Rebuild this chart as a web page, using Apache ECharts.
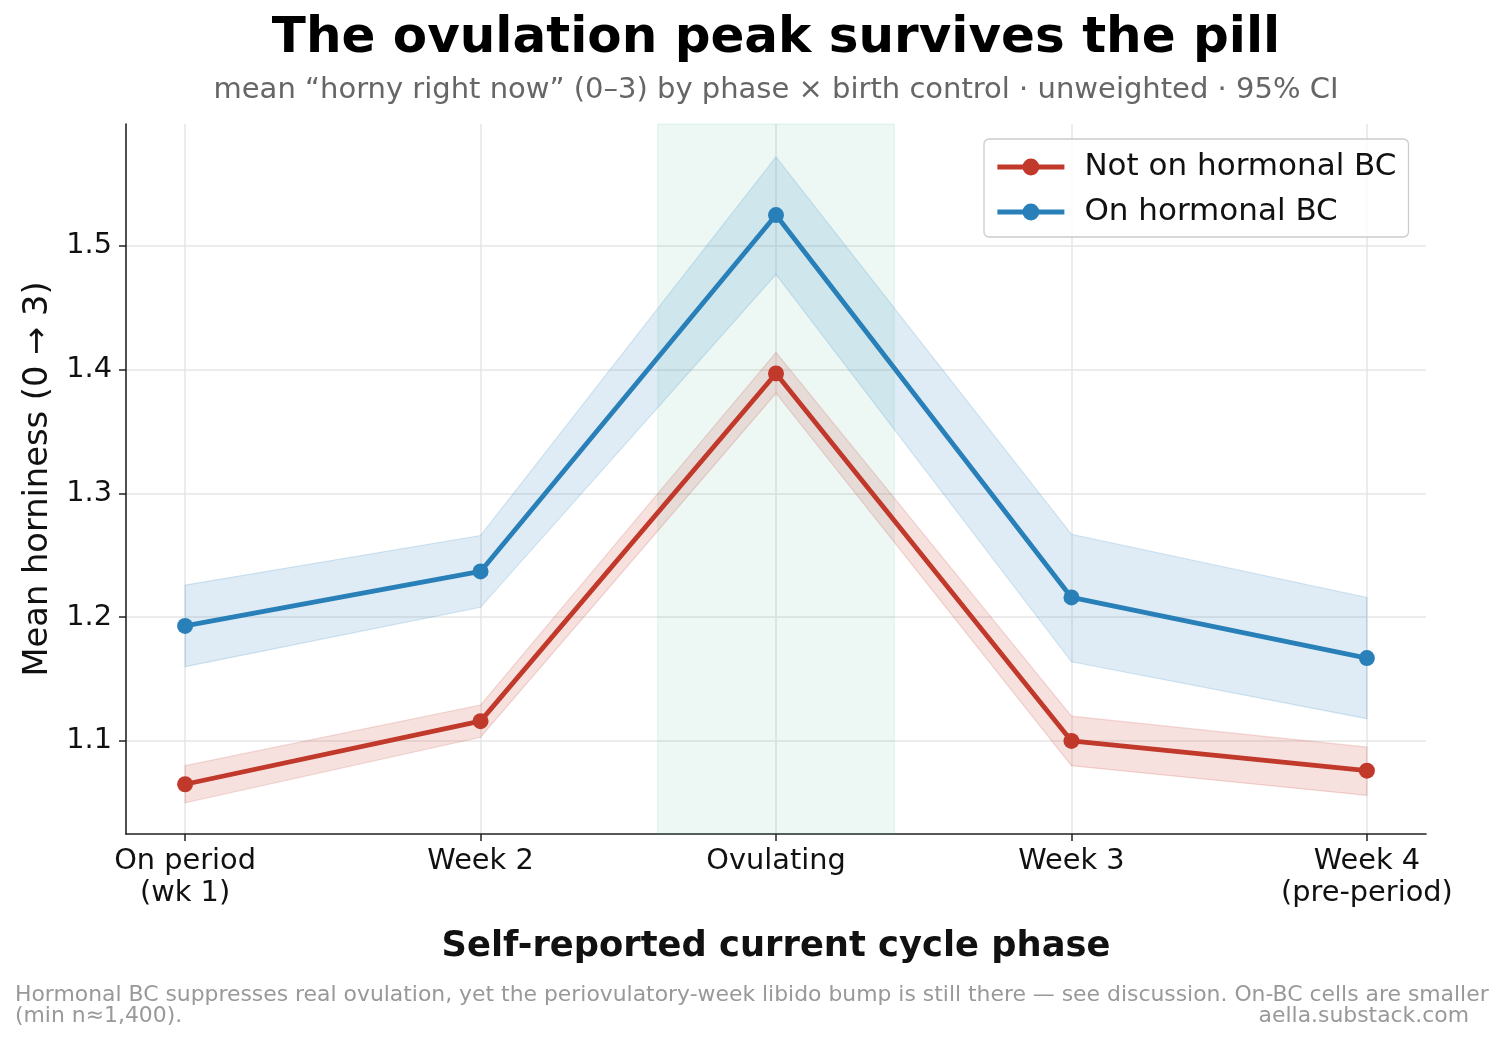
<!DOCTYPE html>
<html>
<head>
<meta charset="utf-8">
<script src="https://cdn.jsdelivr.net/npm/echarts@6/dist/echarts.min.js"></script>
<style>
  html, body { margin: 0; padding: 0; background: #fff; }
  #chart { width: 1505px; height: 1043px; }
</style>
</head>
<body>
<div id="chart"></div>
<script>
// phases on the x axis (index = x position)
const phases = ['On period\n(wk 1)', 'Week 2', 'Ovulating', 'Week 3', 'Week 4\n(pre-period)']
// not on hormonal BC: mean and 95% CI
const notBC = [1.065, 1.116, 1.397, 1.100, 1.076]
const notBCLo = [1.050, 1.103, 1.381, 1.080, 1.056]
const notBCHi = [1.080, 1.129, 1.414, 1.120, 1.095]
// on hormonal BC
const onBC = [1.193, 1.237, 1.525, 1.216, 1.167]
const onBCLo = [1.160, 1.208, 1.477, 1.164, 1.118]
const onBCHi = [1.226, 1.266, 1.572, 1.267, 1.216]
const yTicks = [1.1, 1.2, 1.3, 1.4, 1.5]
const ovulSpan = [1.6, 2.4]

const RED = '#c0392b'
const BLUE = '#2980b9'
const FONT = 'DejaVu Sans'

const xIdx = phases.map((p, i) => i)

function band(name, lo, hi, fill, edge) {
  return {
    name: name,
    type: 'custom',
    silent: true,
    z: 1,
    data: xIdx.map(i => [i, lo[i], hi[i]]),
    encode: { x: 0, y: [1, 2] },
    renderItem: function (params, api) {
      if (params.dataIndex !== 0) return null
      const pts = []
      xIdx.forEach(i => pts.push(api.coord([i, hi[i]])))
      xIdx.slice().reverse().forEach(i => pts.push(api.coord([i, lo[i]])))
      return {
        type: 'polygon',
        shape: { points: pts },
        style: { fill: fill, stroke: edge, lineWidth: 1.2 }
      }
    }
  }
}

function line(name, vals, color) {
  return {
    name: name,
    type: 'line',
    z: 3,
    data: xIdx.map(i => [i, vals[i]]),
    symbol: 'circle',
    symbolSize: 16,
    lineStyle: { color: color, width: 4.8 },
    itemStyle: { color: color },
    emphasis: { disabled: true }
  }
}

const chart = echarts.init(document.getElementById('chart'))
const option = {
  animation: false,
  textStyle: { fontFamily: FONT },
  grid: { left: 126, right: 79, top: 124, bottom: 209 },
  legend: {
    data: ['Not on hormonal BC', 'On hormonal BC'],
    orient: 'vertical',
    left: 984,
    top: 139,
    padding: [12, 12, 9, 11],
    itemWidth: 67,
    itemHeight: 21,
    itemGap: 13,
    backgroundColor: 'rgba(255,255,255,0.85)',
    borderColor: '#cccccc',
    borderWidth: 1.3,
    borderRadius: 5,
    lineStyle: { width: 4.8 },
    textStyle: { fontSize: 31, color: '#111', fontFamily: FONT, lineHeight: 32, padding: [0, 0, 0, 15] }
  },
  xAxis: {
    type: 'value',
    min: -0.2,
    max: 4.2,
    name: 'Self-reported current cycle phase',
    nameLocation: 'middle',
    nameGap: 95,
    nameTextStyle: { fontSize: 35.3, fontWeight: 'bold', color: '#111', fontFamily: FONT },
    axisLine: { show: true, onZero: false, lineStyle: { color: '#222', width: 1.6 } },
    axisTick: { show: true, customValues: xIdx, length: 7, lineStyle: { color: '#222', width: 1.5 } },
    axisLabel: {
      customValues: xIdx,
      formatter: v => phases[Math.round(v)],
      fontSize: 28.8, color: '#111', lineHeight: 32, margin: 12, fontFamily: FONT
    },
    splitLine: { show: true, lineStyle: { color: '#e6e6e6', width: 1.5 } }
  },
  yAxis: {
    type: 'value',
    min: 1.0248,
    max: 1.5986,
    name: 'Mean horniness (0 \u2192 3)',
    nameLocation: 'middle',
    nameGap: 68,
    nameTextStyle: { fontSize: 33.7, color: '#111', fontFamily: FONT },
    axisLine: { show: true, onZero: false, lineStyle: { color: '#222', width: 1.6 } },
    axisTick: { show: true, customValues: yTicks, length: 7, lineStyle: { color: '#222', width: 1.5 } },
    axisLabel: {
      customValues: yTicks,
      formatter: v => v.toFixed(1),
      fontSize: 28.8, color: '#111', margin: 14, fontFamily: FONT
    },
    splitLine: { show: true, lineStyle: { color: '#e6e6e6', width: 1.5 } }
  },
  series: [
    {
      name: 'ovulation window',
      type: 'line',
      data: [],
      silent: true,
      z: 0,
      markArea: {
        silent: true,
        itemStyle: { color: 'rgba(22,160,133,0.08)', borderColor: 'rgba(22,160,133,0.12)', borderWidth: 1 },
        data: [[{ xAxis: ovulSpan[0] }, { xAxis: ovulSpan[1] }]]
      }
    },
    band('notBC CI', notBCLo, notBCHi, 'rgba(192,57,43,0.15)', 'rgba(192,57,43,0.18)'),
    band('onBC CI', onBCLo, onBCHi, 'rgba(41,128,185,0.15)', 'rgba(41,128,185,0.18)'),
    line('Not on hormonal BC', notBC, RED),
    line('On hormonal BC', onBC, BLUE)
  ],
  graphic: [
    {
      type: 'text', z: 10,
      style: {
        text: 'The ovulation peak survives the pill', x: 776, y: 39,
        align: 'center', verticalAlign: 'middle',
        font: 'bold 50px "DejaVu Sans"', fill: '#000'
      }
    },
    {
      type: 'text', z: 10,
      style: {
        text: 'mean \u201chorny right now\u201d (0\u20133) by phase \u00d7 birth control \u00b7 unweighted \u00b7 95% CI',
        x: 776, y: 90, align: 'center', verticalAlign: 'middle',
        font: '29px "DejaVu Sans"', fill: '#666666'
      }
    },
    {
      type: 'text', z: 10,
      style: {
        text: 'Hormonal BC suppresses real ovulation, yet the periovulatory-week libido bump is still there \u2014 see discussion. On-BC cells are smaller\n(min n\u22481,400).',
        x: 15, y: 985, align: 'left', verticalAlign: 'top', lineHeight: 21,
        font: '21.9px "DejaVu Sans"', fill: '#999999'
      }
    },
    {
      type: 'text', z: 10,
      style: {
        text: 'aella.substack.com',
        x: 1469, y: 1016, align: 'right', verticalAlign: 'middle',
        font: '21.9px "DejaVu Sans"', fill: '#999999'
      }
    }
  ]
}
chart.setOption(option)
</script>
</body>
</html>
